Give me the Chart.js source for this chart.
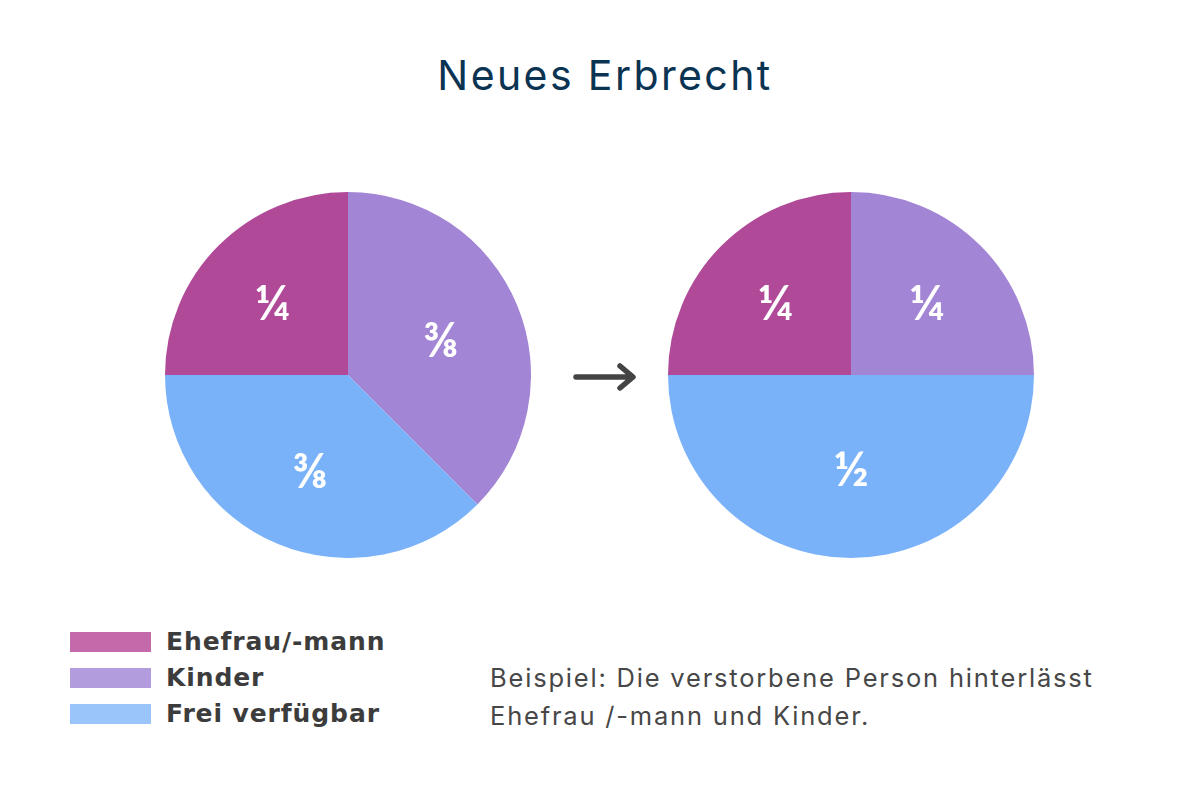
<!DOCTYPE html>
<html><head><meta charset="utf-8">
<script src="https://cdn.jsdelivr.net/npm/chart.js@4"></script>
<style>
html,body{margin:0;padding:0;background:#fff;}
#wrap{position:relative;width:1200px;height:800px;overflow:hidden;background:#fff;}
#title{position:absolute;left:0;width:1210px;top:47px;text-align:center;font-family:Inter,"Noto Sans",sans-serif;font-size:41px;letter-spacing:2.4px;color:#0b3352;line-height:56px;}
.pie{position:absolute;width:366px;height:366px;top:192px;}
#arrow{position:absolute;left:570px;top:360px;}
#legend{position:absolute;left:70px;top:624px;font-family:"DejaVu Sans",sans-serif;font-weight:700;font-size:25px;letter-spacing:0.9px;color:#3c3c3c;}
.li{position:relative;height:36px;line-height:36px;padding-left:96px;}
.sw{position:absolute;left:0;top:8px;width:81px;height:20px;}
#note{position:absolute;left:490px;top:659px;font-family:Inter,"Noto Sans",sans-serif;font-size:25.5px;letter-spacing:1.8px;color:#474747;line-height:38px;}
</style></head>
<body><div id="wrap">
<div id="title"></div>
<div class="pie" style="left:165px"><canvas id="c1" width="366" height="366"></canvas></div>
<div class="pie" style="left:668px"><canvas id="c2" width="366" height="366"></canvas></div>
<svg id="arrow" width="75" height="36"><path d="M6 17 H62 M50 6 L63 17 L50 28" stroke="#444" stroke-width="5.5" fill="none" stroke-linecap="round" stroke-linejoin="round"/></svg>
<div id="legend"></div>
<div id="note"></div>
</div>
<script>
const titleText = "Neues Erbrecht";
const categories = ["Ehefrau/-mann", "Kinder", "Frei verfügbar"];
const leftValues = [0.25, 0.375, 0.375];
const rightValues = [0.25, 0.25, 0.5];
const leftLabels = ["¼", "⅜", "⅜"];
const rightLabels = ["¼", "¼", "½"];
const noteLines = ["Beispiel: Die verstorbene Person hinterlässt", "Ehefrau /-mann und Kinder."];
const sliceColors = ["#b04a98", "#a385d5", "#7ab2fa"];
const legendColors = ["#c46aab", "#b29cde", "#99c5fb"];

document.getElementById('title').textContent = titleText;
const lg = document.getElementById('legend');
categories.forEach((c,i)=>{
  const d=document.createElement('div');d.className='li';
  const s=document.createElement('span');s.className='sw';s.style.background=legendColors[i];
  d.appendChild(s);d.appendChild(document.createTextNode(c));lg.appendChild(d);
});
document.getElementById('note').innerHTML = noteLines.map(l=>'<div>'+l+'</div>').join('');

const labelPlugin = {
  id:'fracLabels',
  afterDatasetsDraw(chart, args, opts){
    const ctx=chart.ctx; const meta=chart.getDatasetMeta(0);
    ctx.save();
    ctx.fillStyle='#ffffff'; ctx.font='700 48px Lato, "Open Sans", sans-serif';
    ctx.textAlign='left'; ctx.textBaseline='alphabetic';
    meta.data.forEach((arc,i)=>{
      const p=arc.getProps(['x','y','startAngle','endAngle','outerRadius']);
      const th=p.endAngle-p.startAngle; const a=(p.startAngle+p.endAngle)/2;
      const centroid = 4*p.outerRadius*Math.sin(th/2)/(3*th);
      const r = 0.5*centroid + 0.5*0.57*p.outerRadius;
      const cx=p.x+Math.cos(a)*r, cy=p.y+Math.sin(a)*r + 3;
      const m=ctx.measureText(opts.labels[i]);
      const w=m.actualBoundingBoxLeft+m.actualBoundingBoxRight;
      const h=m.actualBoundingBoxAscent+m.actualBoundingBoxDescent;
      ctx.fillText(opts.labels[i], cx - w/2 + m.actualBoundingBoxLeft, cy - h/2 + m.actualBoundingBoxAscent);
    });
    ctx.restore();
  }
};
function makePie(id, values, labels){
  new Chart(document.getElementById(id), {
    type:'pie',
    data:{labels:categories, datasets:[{data:values, backgroundColor:sliceColors, borderWidth:0, hoverOffset:0}]},
    options:{responsive:false, animation:false, rotation:-90,
      layout:{padding:0},
      plugins:{legend:{display:false}, tooltip:{enabled:false}, fracLabels:{labels:labels}}},
    plugins:[labelPlugin]
  });
}
makePie('c1', leftValues, leftLabels);
makePie('c2', rightValues, rightLabels);
</script>
</body></html>
